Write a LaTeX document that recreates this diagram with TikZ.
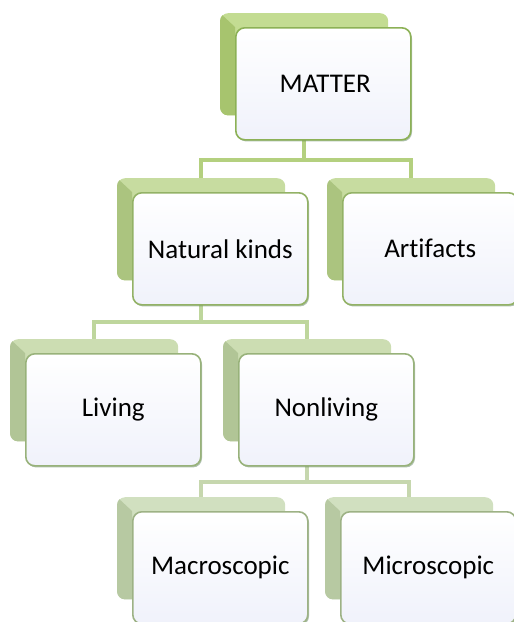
\documentclass[tikz,border=0pt]{standalone}
\usepackage{fontspec}
\setmainfont[Ligatures={NoCommon}]{Carlito}
\usetikzlibrary{backgrounds,shadows,calc}
\definecolor{aTop}{HTML}{C3DC92}\definecolor{aLeft}{HTML}{A7C46E}\definecolor{aBorder}{HTML}{8CB156}
\definecolor{bTop}{HTML}{C7DCA0}\definecolor{bLeft}{HTML}{ABC47F}\definecolor{bBorder}{HTML}{93B266}
\definecolor{cTop}{HTML}{CCDDB2}\definecolor{cLeft}{HTML}{B1C596}\definecolor{cBorder}{HTML}{98B27A}
\definecolor{dTop}{HTML}{D1E0C0}\definecolor{dLeft}{HTML}{B7C9A2}\definecolor{dBorder}{HTML}{9DB285}
\definecolor{connA}{HTML}{B4D07F}\definecolor{connB}{HTML}{BED69C}\definecolor{connC}{HTML}{C6D7AE}
\definecolor{frontBot}{HTML}{F0F2FB}
\tikzset{
  backbox/.style={rectangle, rounded corners=8pt, anchor=north west, minimum width=168pt, minimum height=102pt, inner sep=0pt},
  frontbox/.style={rectangle, rounded corners=9pt, anchor=north west, minimum width=175pt, minimum height=112pt, inner sep=0pt,
    line width=1.6pt, top color=white, bottom color=frontBot, font=\fontsize{27}{32}\selectfont,
    drop shadow={shadow xshift=1.2pt, shadow yshift=-1.6pt, opacity=0.45, fill=black!60!green!40!gray}},
  conn/.style={line width=4pt}
}
\newcommand\tierbox[6]{%
  \node[backbox, fill=#5Top] (#1b) at (#2-15,#3-14) {};
  \begin{scope}
    \clip[rounded corners=8pt] (#1b.north west) rectangle (#1b.south east);
    \fill[#5Left] (#1b.north west) -- ++(15,14) -- ($(#1b.south west)+(15,0)$) -- (#1b.south west) -- cycle;
  \end{scope}
  \node[frontbox, draw=#5Border] (#1) at (#2,#3) {\hspace*{#6pt}#4};
}
\begin{document}
\begin{tikzpicture}[x=1pt,y=-1pt]
\useasboundingbox (0,0) rectangle (514,622);
\tierbox{matter}{235}{27}{MATTER}{a}{4}
\tierbox{nat}{132}{192}{Natural kinds}{b}{0}
\tierbox{art}{342}{192}{Artifacts}{b}{0}
\tierbox{liv}{25}{353}{Living}{c}{0}
\tierbox{nonl}{238}{353}{Nonliving}{c}{0}
\tierbox{mac}{132}{511}{Macroscopic}{d}{0}
\tierbox{mic}{340}{511}{Microscopic}{d}{0}
\coordinate (bar1) at (0,160);
\coordinate (bar2) at (0,322);
\coordinate (bar3) at (0,482);
\begin{pgfonlayer}{background}
  \draw[conn, connA] (matterb.center) -- (matterb.center |- bar1) -| (natb.north);
  \draw[conn, connA] (matterb.center |- bar1) -| (artb.north);
  \draw[conn, connB] (natb.center) -- (natb.center |- bar2) -| (livb.north);
  \draw[conn, connB] (natb.center |- bar2) -| (nonlb.north);
  \draw[conn, connC] (nonlb.center) -- (nonlb.center |- bar3) -| (macb.north);
  \draw[conn, connC] (nonlb.center |- bar3) -| (micb.north);
\end{pgfonlayer}
\end{tikzpicture}
\end{document}
